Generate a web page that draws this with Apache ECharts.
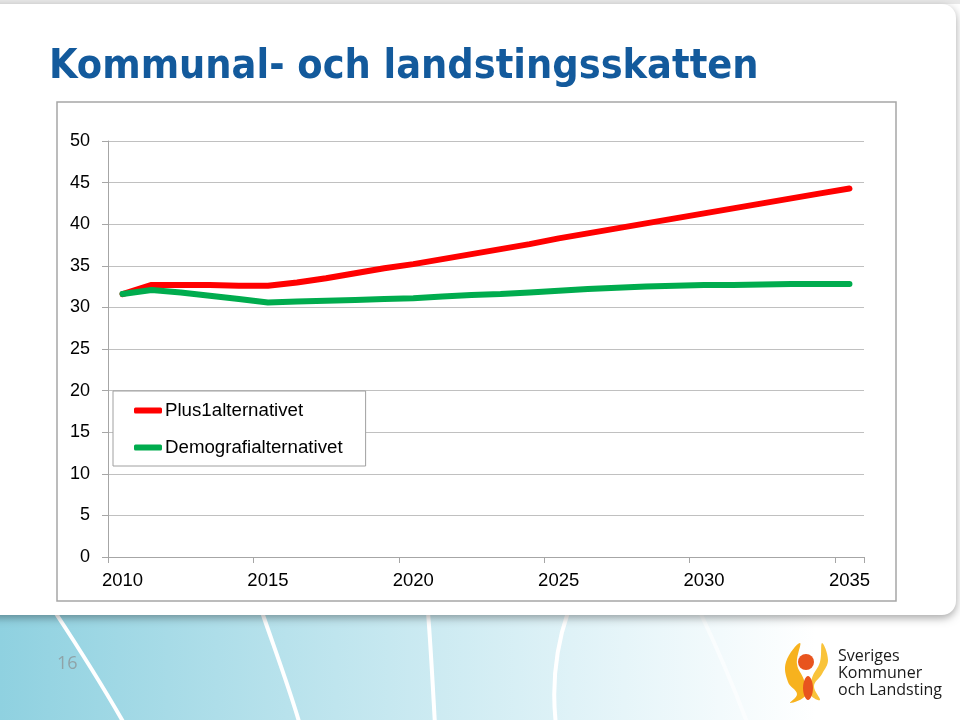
<!DOCTYPE html>
<html>
<head>
<meta charset="utf-8">
<script src="https://cdn.jsdelivr.net/npm/echarts@6/dist/echarts.min.js"></script>
<style>
html,body{margin:0;padding:0;background:#fff;}
#chart{width:960px;height:720px;}
</style>
</head>
<body>
<div id="chart"></div>
<script>
var years = ['2010','2011','2012','2013','2014','2015','2016','2017','2018','2019','2020','2021','2022','2023','2024','2025','2026','2027','2028','2029','2030','2031','2032','2033','2034','2035'];
var plus1 = [31.6,32.7,32.7,32.7,32.6,32.6,33.0,33.5,34.1,34.7,35.2,35.8,36.4,37.0,37.6,38.3,38.9,39.5,40.1,40.7,41.3,41.9,42.5,43.1,43.7,44.3];
var demografi = [31.6,32.1,31.8,31.4,31.0,30.6,30.7,30.8,30.9,31.0,31.1,31.3,31.5,31.6,31.8,32.0,32.2,32.35,32.5,32.6,32.7,32.7,32.75,32.8,32.8,32.8];
var seriesNames = ['Plus1alternativet','Demografialternativet'];
var titleText = 'Kommunal- och landstingsskatten';
var pageNo = '16';

var chart = echarts.init(document.getElementById('chart'), null, {renderer:'canvas'});
var F = '"Liberation Sans", Arial, sans-serif';

var curves = [
  [55,612, 80,650, 105,690, 125,725],
  [262,612, 275,650, 290,690, 300,725],
  [428,612, 431,650, 433,690, 435,725],
  [568,612, 555,650, 552,690, 556,725],
  [700,612, 718,650, 735,690, 748,725]
];
var graphics = [
  {type:'rect', z:-10, shape:{x:0,y:0,width:960,height:720},
   style:{fill:new echarts.graphic.LinearGradient(0,0,1,0,[
     {offset:0,color:'#8fd1e0'},{offset:0.35,color:'#bfe5ee'},{offset:0.65,color:'#e6f5f9'},{offset:0.85,color:'#ffffff'},{offset:1,color:'#ffffff'}])}},
  {type:'rect', z:-10, shape:{x:0,y:0,width:960,height:4}, style:{fill:'#e8e8e8'}}
];
curves.forEach(function(c,i){
  graphics.push({type:'bezierCurve', z:-9,
    shape:{x1:c[0],y1:c[1],cpx1:c[2],cpy1:c[3],cpx2:c[4],cpy2:c[5],x2:c[6],y2:c[7]},
    style:{fill:null, stroke: i===4?'rgba(255,255,255,0.6)':'#ffffff', lineWidth:4}});
});
graphics.push(
  {type:'rect', z:-8, shape:{x:-20,y:4,width:976,height:611,r:14},
   style:{fill:'#ffffff', shadowBlur:8, shadowColor:'rgba(0,0,0,0.35)', shadowOffsetY:3}},
  {type:'rect', z:-7, shape:{x:57,y:102,width:839,height:499},
   style:{fill:'#ffffff', stroke:'#a6a6a6', lineWidth:1.5}},
  {type:'text', z:5, left:49, top:47,
   style:{text:titleText, fill:'#135a9c', font:'bold 41px "DejaVu Sans Condensed", "DejaVu Sans", sans-serif'}},
  {type:'text', z:5, left:57, top:655,
   style:{text:pageNo, fill:'#8fa3a8', font:'18px "Open Sans", sans-serif'}},
  // logo
  {type:'polygon', z:5, shape:{smooth:0.4, points:[[800,643],[786,662],[788,682],[797,694],[790,703],[806,695],[804,680],[797,664]]}, style:{fill:'#f7b21e'}},
  {type:'polygon', z:5, shape:{smooth:0.4, points:[[822,643],[828,660],[822,674],[814,686],[820,700],[810,694],[812,678],[820,662]]}, style:{fill:'#f9c33a'}},
  {type:'circle', z:6, shape:{cx:806, cy:662, r:8}, style:{fill:'#e8541e'}},
  {type:'polygon', z:6, shape:{smooth:0.5, points:[[808,676],[813,688],[808,700],[803,688]]}, style:{fill:'#e8541e'}},
  {type:'text', z:5, left:838, top:648,
   style:{text:'Sveriges\nKommuner\noch Landsting', fill:'#1a1a1a', font:'16px "Open Sans", sans-serif', lineHeight:17}}
);

var option = {
  backgroundColor:'transparent',
  animation:false,
  graphic: graphics,
  grid:{left:108, right:96, top:141, bottom:163, containLabel:false},
  legend:{
    orient:'vertical', left:113, top:391,
    data:seriesNames,
    icon:'roundRect', itemWidth:28, itemHeight:6, itemGap:18,
    borderColor:'#a0a0a0', borderWidth:1, backgroundColor:'#ffffff',
    padding:[10,23,9,21],
    textStyle:{fontFamily:F, fontSize:18.7, color:'#000', padding:[0,0,0,-2]}
  },
  xAxis:{
    type:'category', data:years, boundaryGap:true,
    axisLine:{show:true, lineStyle:{color:'#a6a6a6', width:1}},
    axisTick:{show:true, interval:4, length:6, lineStyle:{color:'#a6a6a6'}},
    axisLabel:{interval:4, margin:14, fontFamily:F, fontSize:18.5, color:'#000'},
    splitLine:{show:false}
  },
  yAxis:{
    type:'value', min:0, max:50, interval:5,
    axisLine:{show:true, lineStyle:{color:'#a6a6a6', width:1}},
    axisTick:{show:true, length:6, lineStyle:{color:'#a6a6a6'}},
    axisLabel:{margin:18, fontFamily:F, fontSize:18, color:'#000'},
    splitLine:{show:true, lineStyle:{color:'#c0c0c0', width:1}}
  },
  series:[
    {name:seriesNames[0], type:'line', data:plus1, symbol:'none', smooth:false,
     itemStyle:{color:'#ff0000'}, lineStyle:{color:'#ff0000', width:6, cap:'round', join:'round'}},
    {name:seriesNames[1], type:'line', data:demografi, symbol:'none', smooth:false,
     itemStyle:{color:'#00ac4e'}, lineStyle:{color:'#00ac4e', width:6, cap:'round', join:'round'}}
  ]
};
chart.setOption(option);
</script>
</body>
</html>
